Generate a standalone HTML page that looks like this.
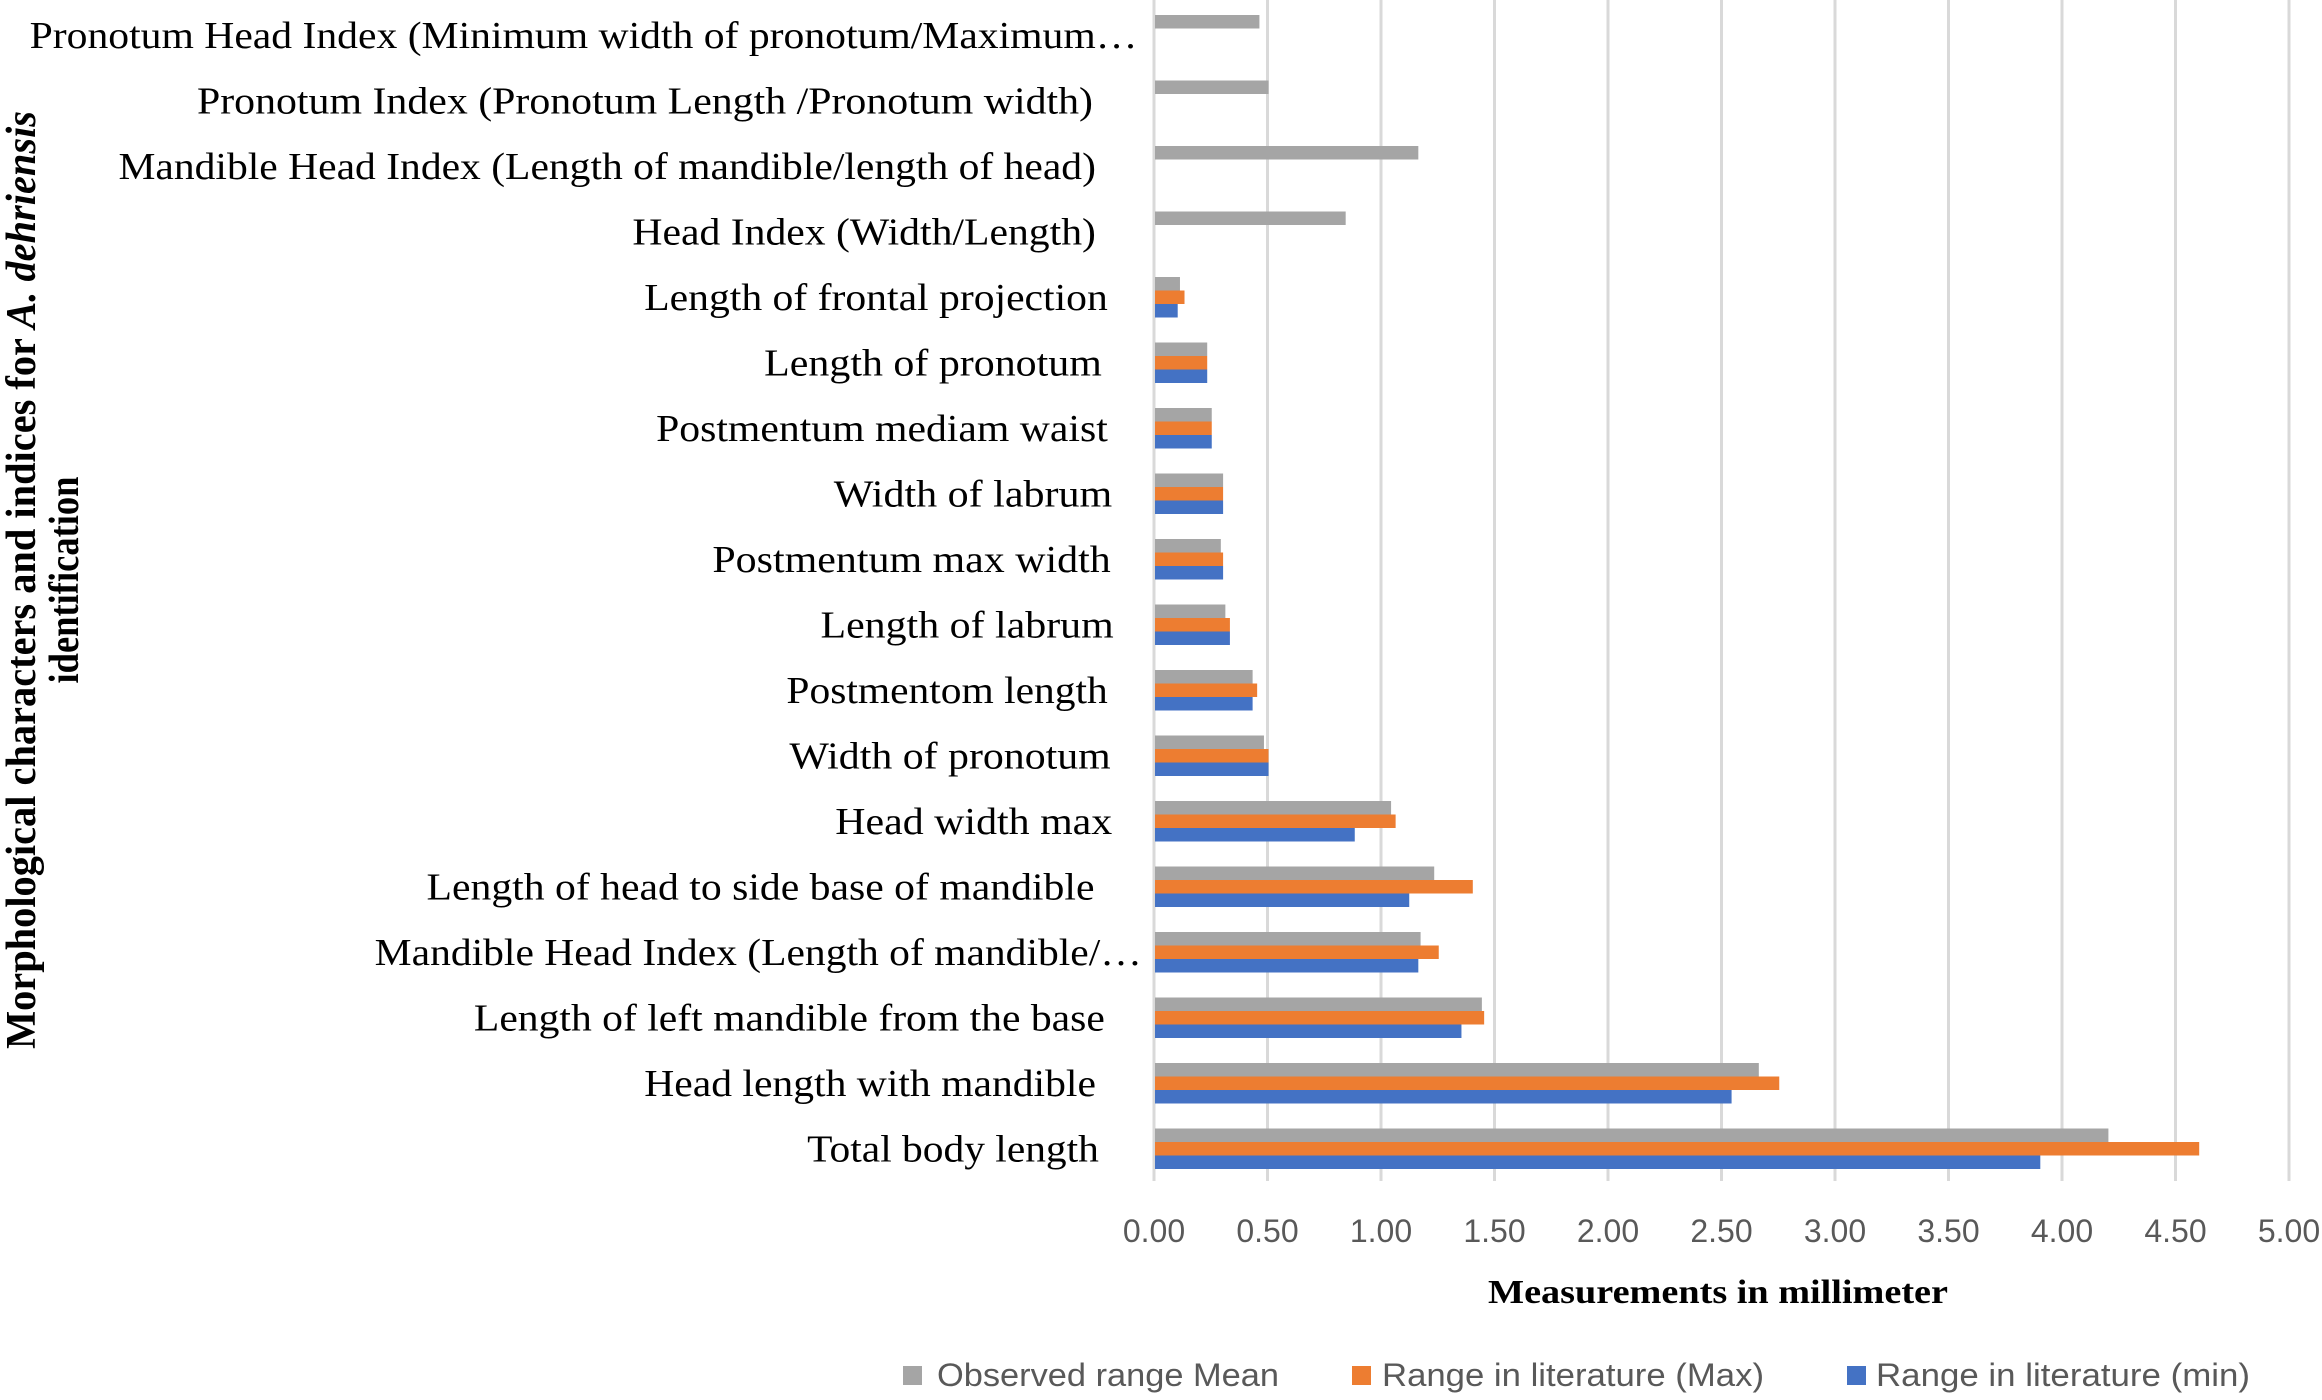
<!DOCTYPE html>
<html><head><meta charset="utf-8"><style>html,body{margin:0;padding:0;background:#fff}</style></head>
<body>
<svg width="2322" height="1395" xmlns="http://www.w3.org/2000/svg">
<g stroke="#d9d9d9" stroke-width="3">
<line x1="1267.5" y1="0" x2="1267.5" y2="1181"/>
<line x1="1381" y1="0" x2="1381" y2="1181"/>
<line x1="1494.5" y1="0" x2="1494.5" y2="1181"/>
<line x1="1608" y1="0" x2="1608" y2="1181"/>
<line x1="1721.5" y1="0" x2="1721.5" y2="1181"/>
<line x1="1835" y1="0" x2="1835" y2="1181"/>
<line x1="1948.5" y1="0" x2="1948.5" y2="1181"/>
<line x1="2062" y1="0" x2="2062" y2="1181"/>
<line x1="2175.5" y1="0" x2="2175.5" y2="1181"/>
<line x1="2289" y1="0" x2="2289" y2="1181"/>
<line x1="1154" y1="0" x2="1154" y2="1181"/>
</g>
<g id="bars"></g>
<g font-family="Liberation Serif, serif" font-size="38" fill="#000" text-anchor="end" id="labels"></g>
<g font-family="Liberation Sans, sans-serif" font-size="32" fill="#595959" text-anchor="middle">
<text x="1154" y="1242">0.00</text><text x="1267.5" y="1242">0.50</text><text x="1381" y="1242">1.00</text><text x="1494.5" y="1242">1.50</text><text x="1608" y="1242">2.00</text><text x="1721.5" y="1242">2.50</text><text x="1835" y="1242">3.00</text><text x="1948.5" y="1242">3.50</text><text x="2062" y="1242">4.00</text><text x="2175.5" y="1242">4.50</text><text x="2289" y="1242">5.00</text>
</g>
<text x="1718" y="1303" font-family="Liberation Serif, serif" font-weight="bold" font-size="34" text-anchor="middle" textLength="460" lengthAdjust="spacingAndGlyphs">Measurements in millimeter</text>
<g transform="translate(0,580) rotate(-90)" font-family="Liberation Serif, serif" font-weight="bold" font-size="42" text-anchor="middle">
<text x="0" y="35" textLength="938" lengthAdjust="spacingAndGlyphs">Morphological characters and indices for <tspan font-style="italic">A. dehriensis</tspan></text>
<text x="0" y="78" textLength="207" lengthAdjust="spacingAndGlyphs">identification</text>
</g>
<g font-family="Liberation Sans, sans-serif" font-size="32" fill="#595959">
<rect x="903" y="1366" width="19" height="19" fill="#a5a5a5"/><text x="937" y="1386" textLength="342" lengthAdjust="spacingAndGlyphs">Observed range Mean</text>
<rect x="1352" y="1366" width="19" height="19" fill="#ed7d31"/><text x="1382" y="1386" textLength="382" lengthAdjust="spacingAndGlyphs">Range in literature (Max)</text>
<rect x="1847" y="1366" width="19" height="19" fill="#4472c4"/><text x="1876" y="1386" textLength="374" lengthAdjust="spacingAndGlyphs">Range in literature (min)</text>
</g>
</svg>
<script>
var rows=[
["Pronotum Head Index (Minimum width of pronotum/Maximum…",20,768,0.46],
["Pronotum Index (Pronotum Length /Pronotum width)",133,738,0.50],
["Mandible Head Index (Length of mandible/length of head)",80,740,1.16],
["Head Index (Width/Length)",427,740,0.84],
["Length of frontal projection",435,748,0.11,0.13,0.10],
["Length of pronotum",516,744,0.23,0.23,0.23],
["Postmentum mediam waist",443,748,0.25,0.25,0.25],
["Width of labrum",563,751,0.30,0.30,0.30],
["Postmentum max width",481,750,0.29,0.30,0.30],
["Length of labrum",554,752,0.31,0.33,0.33],
["Postmentom length",531,748,0.43,0.45,0.43],
["Width of pronotum",533,750,0.48,0.50,0.50],
["Head width max",564,751,1.04,1.06,0.88],
["Length of head to side base of mandible",288,739,1.23,1.40,1.12],
["Mandible Head Index (Length of mandible/…",253,771,1.17,1.25,1.16],
["Length of left mandible from the base",320,746,1.44,1.45,1.35],
["Head length with mandible",435,740,2.66,2.75,2.54],
["Total body length",545,742,4.20,4.60,3.90]];
var NS="http://www.w3.org/2000/svg",b=document.getElementById("bars"),l=document.getElementById("labels");
var cols=["#a5a5a5","#ed7d31","#4472c4"];
rows.forEach(function(r,i){var c=35+i*65.5;
 for(var k=0;k<3;k++){var v=r[3+k];if(v===undefined)continue;var e=document.createElementNS(NS,"rect");
 e.setAttribute("x",1155);e.setAttribute("y",c-20+k*13.5);e.setAttribute("width",v*227);e.setAttribute("height",13.5);e.setAttribute("fill",cols[k]);b.appendChild(e);}
 var t=document.createElementNS(NS,"text");var x1=r[1]*1.481,x2=r[2]*1.481;
 t.setAttribute("x",x2);t.setAttribute("y",c+13);t.setAttribute("textLength",x2-x1);t.setAttribute("lengthAdjust","spacingAndGlyphs");t.textContent=r[0];l.appendChild(t);});
</script>
</body></html>
